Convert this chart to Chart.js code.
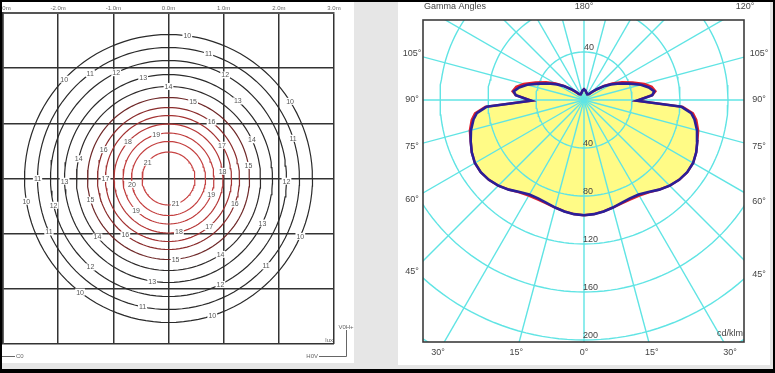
<!DOCTYPE html>
<html><head><meta charset="utf-8">
<script src="https://cdn.jsdelivr.net/npm/chart.js@4"></script>
<style>
html,body{margin:0;padding:0;}
body{width:775px;height:373px;overflow:hidden;background:#000;position:relative;font-family:"Liberation Sans",Arial,sans-serif;}
#frame{position:absolute;left:2px;top:2px;width:771px;height:367px;background:#e6e6e6;}
#leftWrap{position:absolute;left:2px;top:2px;width:352px;height:361px;background:#fff;}
#rightWrap{position:absolute;left:398px;top:2px;width:372px;height:363px;background:#fff;}
canvas{display:block;}
</style></head>
<body>
<div id="frame"></div>
<div id="leftWrap"><canvas id="iso" width="352" height="361"></canvas></div>
<div id="rightWrap"><canvas id="polar" width="372" height="363"></canvas></div>
<script>
// ---------- Left panel: isolux diagram ----------
const gridTicks = [-3, -2, -1, 0, 1, 2, 3];
const contourLevels = [10, 11, 12, 13, 14, 15, 16, 17, 18, 19, 20, 21];
const contourRadii = [2.61, 2.374, 2.139, 1.885, 1.668, 1.468, 1.287, 1.142, 0.988, 0.825, 0.671, 0.48];
const contourColors = ['#2a2a2a', '#2a2a2a', '#2a2a2a', '#2a2a2a', '#2e2a2a', '#6e2828', '#8a2c2c', '#a33232', '#b53838', '#bf3c3c', '#c44040', '#c84444'];
const labelLevels = [10, 11, 12, 13, 14, 15, 16, 17, 18, 19, 21, 20,
  10, 11, 12, 13, 10, 11, 14, 15, 18, 14, 16, 11, 13, 17, 12,
  10, 12, 15, 19, 21, 19, 16, 11, 14, 16, 18, 17, 13, 10, 12, 15, 14, 11, 13, 12, 10, 11, 10];
const labelAngles = [82.5, 72.2, 61.3, 104.1, 90, 72.3, 52.7, 31.9, 138, 105.6, 141.9, 189.1,
  136.4, 126.7, 116.3, 48.2, 32.4, 17.9, 24.9, 9.3, 7.6, 167.6, 156, 180, 181.5, 180, -1.3,
  189.1, 193.1, 195.4, 224.5, 285.5, 339.9, 339, 204.1, 219.5, 232.5, 281, 310.2, 334.6, 336.3, 228.6, 275, 304.5, 318.2, 261, 296.1, 232.1, 258.6, 287.7];

// ---------- Right panel: polar intensity diagram ----------
const gammaAngles = [0, 5, 10, 15, 20, 25, 30, 35, 40, 45, 50, 55, 60, 65, 70, 75, 80, 83, 86, 89.2, 94, 97, 101, 105, 110, 115, 120, 125, 130, 135, 140, 150, 160, 170, 180];
const intensityBlue = [96, 95.5, 94.3, 92.8, 91.3, 90.5, 91, 93.5, 97.5, 101, 103.5, 105, 105, 103.2, 100.5, 97.5, 93.5, 90, 81.5, 44, 57, 59, 55, 49, 40, 32.5, 26, 20, 14, 9.5, 6.5, 5.5, 6.2, 7.8, 9];
const intensityRed = [96, 95.5, 94.3, 92.8, 91.8, 91.5, 92, 94, 97.5, 101, 103.5, 105, 105, 103.2, 100.5, 98.5, 95, 91.5, 82.5, 44, 57, 60, 57.5, 52, 43, 35, 27.5, 20.5, 14, 9.5, 6.5, 5.5, 6.2, 7.8, 9];
const ringValues = [40, 80, 120, 160, 200, 240];
const ringLabels = ['40', '80', '120', '160', '200'];
const rayAngles = [0, 15, 30, 45, 60, 75, 90, 105, 120, 135, 150, 165, 180, 195, 210, 225, 240, 255, 270, 285, 300, 315, 330, 345];
const sideLabelAngles = [105, 90, 75, 60, 45];
const bottomLabelAngles = [30, 15, 0, 15, 30];
const bottomLabelSides = [-1, -1, 0, 1, 1];
const topLabelAngles = [180, 120];
const topLabelSides = [0, 1];

const FONT = '"Liberation Sans", Arial, sans-serif';
const D2R = Math.PI / 180;

// ---- isolux chart ----
const isoDatasets = contourLevels.map((lv, i) => {
  const pts = [];
  for (let a = 0; a <= 360; a += 3) {
    pts.push({x: contourRadii[i] * Math.cos(a * D2R), y: contourRadii[i] * Math.sin(a * D2R)});
  }
  return {label: 'E' + lv, data: pts, borderColor: contourColors[i], borderWidth: 1.2, pointRadius: 0, fill: false, clip: 0};
});

const isoPlugin = {
  id: 'isoText',
  afterDatasetsDraw(chart) {
    const {ctx, chartArea: ca, scales: {x, y}} = chart;
    ctx.save();
    ctx.font = '7px ' + FONT;
    ctx.textAlign = 'center';
    ctx.textBaseline = 'middle';
    labelLevels.forEach((lv, i) => {
      const r = contourRadii[contourLevels.indexOf(lv)];
      const a = labelAngles[i] * D2R;
      const px = x.getPixelForValue(r * Math.cos(a));
      const py = y.getPixelForValue(r * Math.sin(a));
      const t = String(lv);
      const w = ctx.measureText(t).width;
      ctx.fillStyle = '#fff';
      ctx.fillRect(px - w / 2 - 1, py - 3.5, w + 2, 7);
      ctx.fillStyle = '#555';
      ctx.fillText(t, px, py + 0.5);
    });
    // corner annotations
    ctx.font = '6px ' + FONT;
    ctx.fillStyle = '#666';
    ctx.strokeStyle = '#666';
    ctx.lineWidth = 1;
    ctx.textAlign = 'right';
    ctx.fillText('lux', ca.right - 1, ca.bottom - 4);
    const by = ca.bottom + 12.5;
    ctx.beginPath();
    ctx.moveTo(0, by); ctx.lineTo(13, by);
    ctx.moveTo(ca.right - 15, by); ctx.lineTo(ca.right + 12.5, by); ctx.lineTo(ca.right + 12.5, ca.bottom - 14);
    ctx.stroke();
    ctx.textAlign = 'left';
    ctx.fillText('C0', 14, by);
    ctx.textAlign = 'right';
    ctx.fillText('H0V', ca.right - 16, by);
    ctx.textAlign = 'center';
    ctx.fillText('V0H+', ca.right + 12, ca.bottom - 17);
    ctx.restore();
  }
};

new Chart(document.getElementById('iso'), {
  type: 'line',
  data: {datasets: isoDatasets},
  options: {
    responsive: false, animation: false,
    layout: {padding: {left: 1, right: 20, top: 0, bottom: 19}},
    plugins: {legend: {display: false}, tooltip: {enabled: false}},
    scales: {
      x: {
        type: 'linear', position: 'top', min: gridTicks[0], max: gridTicks[gridTicks.length - 1],
        afterBuildTicks(s) { s.ticks = gridTicks.map(v => ({value: v})); },
        ticks: {callback: v => v.toFixed(1) + 'm', font: {size: 6, family: FONT}, color: '#666', padding: 1, maxRotation: 0, autoSkip: false},
        grid: {color: '#333', lineWidth: 1.5, drawTicks: false},
        border: {color: '#555', width: 2},
        afterFit(s) { s.height = 11; s.paddingLeft = 0; s.paddingRight = 0; }
      },
      y: {
        type: 'linear', min: gridTicks[0], max: gridTicks[gridTicks.length - 1],
        afterBuildTicks(s) { s.ticks = gridTicks.map(v => ({value: v})); },
        ticks: {display: false},
        grid: {color: '#333', lineWidth: 1.5, drawTicks: false},
        border: {color: '#333', width: 1.5},
        afterFit(s) { s.width = 0; s.paddingTop = 0; s.paddingBottom = 0; }
      }
    }
  },
  plugins: [isoPlugin]
});

// ---- polar chart ----
function curvePoints(vals) {
  const pts = [];
  for (let i = 0; i < gammaAngles.length; i++) {
    const g = gammaAngles[i] * D2R;
    pts.push({x: vals[i] * Math.sin(g), y: -vals[i] * Math.cos(g)});
  }
  for (let i = gammaAngles.length - 1; i >= 0; i--) {
    const g = gammaAngles[i] * D2R;
    pts.push({x: -vals[i] * Math.sin(g), y: -vals[i] * Math.cos(g)});
  }
  return pts;
}
const CYAN = 'rgb(96,228,228)';
const polarDatasets = [];
polarDatasets.push({label: 'fill', data: curvePoints(intensityBlue), fill: 'shape', backgroundColor: '#fffb86', borderColor: 'rgba(0,0,0,0)', borderWidth: 0, pointRadius: 0, order: 10, clip: 0});
ringValues.forEach(rv => {
  const pts = [];
  for (let a = 0; a <= 360; a += 2) pts.push({x: rv * Math.sin(a * D2R), y: rv * Math.cos(a * D2R)});
  polarDatasets.push({label: 'ring' + rv, data: pts, borderColor: CYAN, borderWidth: 1.4, pointRadius: 0, fill: false, order: 8, clip: 0});
});
rayAngles.forEach(ra => {
  polarDatasets.push({label: 'ray' + ra, data: [{x: 0, y: 0}, {x: 320 * Math.sin(ra * D2R), y: -320 * Math.cos(ra * D2R)}], borderColor: CYAN, borderWidth: 1.4, pointRadius: 0, fill: false, order: 8, clip: 0});
});
polarDatasets.push({label: 'C90-C270', data: curvePoints(intensityRed), borderColor: '#e0202c', borderWidth: 2.4, pointRadius: 0, fill: false, order: 2, clip: 0});
polarDatasets.push({label: 'C0-C180', data: curvePoints(intensityBlue), borderColor: '#2a1f98', borderWidth: 2.6, pointRadius: 0, fill: false, order: 1, clip: 0});

const polarPlugin = {
  id: 'polarText',
  afterDraw(chart) {
    const {ctx, chartArea: ca, scales: {x, y}} = chart;
    const cx = x.getPixelForValue(0), cy = y.getPixelForValue(0);
    ctx.save();
    ctx.strokeStyle = '#3c3c3c';
    ctx.lineWidth = 1.6;
    ctx.strokeRect(ca.left, ca.top, ca.right - ca.left, ca.bottom - ca.top);
    ctx.font = '9px ' + FONT;
    ctx.fillStyle = '#444';
    ctx.textBaseline = 'middle';
    ctx.textAlign = 'left';
    ctx.fillText(ringLabels[0], cx, y.getPixelForValue(ringValues[0]) - 4);
    ringLabels.forEach(t => ctx.fillText(t, cx - 1, y.getPixelForValue(-Number(t)) - 4));
    ctx.textAlign = 'right';
    ctx.fillText('cd/klm', ca.right - 1, ca.bottom - 8);
    ctx.textAlign = 'left';
    ctx.fillText('Gamma Angles', ca.left + 1, ca.top - 13);
    const L = ca.left - 11, R = ca.right + 15, T = ca.top - 13, B = ca.bottom + 11;
    function place(g, side) {
      const dx = side * Math.sin(g * D2R), dy = Math.cos(g * D2R);
      let t = Infinity;
      if (dx > 1e-9) t = Math.min(t, (R - cx) / dx);
      if (dx < -1e-9) t = Math.min(t, (L - cx) / dx);
      if (dy > 1e-9) t = Math.min(t, (B - cy) / dy);
      if (dy < -1e-9) t = Math.min(t, (T - cy) / dy);
      ctx.textAlign = 'center';
      ctx.fillText(g + '°', cx + t * dx, cy + t * dy);
    }
    sideLabelAngles.forEach(g => { place(g, -1); place(g, 1); });
    bottomLabelAngles.forEach((g, i) => place(g, bottomLabelSides[i]));
    topLabelAngles.forEach((g, i) => place(g, topLabelSides[i]));
    ctx.restore();
  }
};

new Chart(document.getElementById('polar'), {
  type: 'line',
  data: {datasets: polarDatasets},
  options: {
    responsive: false, animation: false,
    layout: {padding: {left: 25, right: 26, top: 18, bottom: 23}},
    plugins: {legend: {display: false}, tooltip: {enabled: false}},
    scales: {
      x: {type: 'linear', display: false, min: -161 / 1.2, max: 160 / 1.2},
      y: {type: 'linear', display: false, min: -242 / 1.2, max: 80 / 1.2}
    }
  },
  plugins: [polarPlugin]
});
</script>
</body></html>
